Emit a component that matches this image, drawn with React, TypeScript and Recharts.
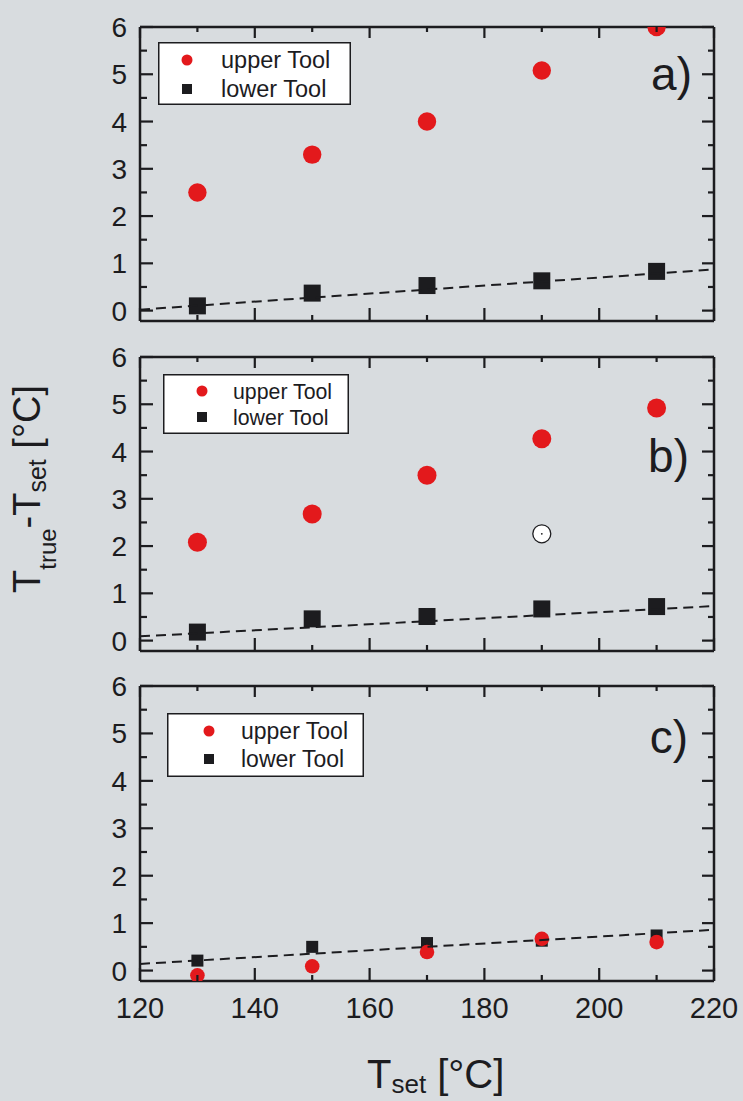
import React from 'react';
import { ScatterChart, Scatter, XAxis, YAxis, Legend } from 'recharts';

const BG = '#d8dcdf';
const INK = '#1c1c1f';
const RED = '#e3191c';
const FONT = '"Liberation Sans", Arial, Helvetica, sans-serif';

// ---- data ----
const T_SET = [130, 150, 170, 190, 210];
const FIT_X = [120, 220];

const UPPER_A = [2.5, 3.3, 4.0, 5.08, 6.0];
const LOWER_A = [0.1, 0.37, 0.53, 0.63, 0.83];
const FIT_A = [0.02, 0.87];

const UPPER_B = [2.08, 2.68, 3.5, 4.27, 4.92];
const LOWER_B = [0.18, 0.46, 0.51, 0.67, 0.72];
const FIT_B = [0.09, 0.73];
const OUTLIER_B_X = [190];
const OUTLIER_B_Y = [2.26];

const UPPER_C = [-0.1, 0.09, 0.39, 0.67, 0.6];
const LOWER_C = [0.21, 0.5, 0.58, 0.63, 0.74];
const FIT_C = [0.14, 0.86];

const X_TICKS = [120, 130, 140, 150, 160, 170, 180, 190, 200, 210, 220];
const Y_TICKS = [0, 0.5, 1, 1.5, 2, 2.5, 3, 3.5, 4, 4.5, 5, 5.5, 6];
const X_DOMAIN = [120, 220];
const Y_DOMAIN = [-0.22, 6];
const SERIES_NAMES = ['upper Tool', 'lower Tool'];
const PANEL_LABELS = ['a)', 'b)', 'c)'];

const zip = (xs: number[], ys: number[]) => xs.map((x, i) => ({ x, y: ys[i] }));

// ---- ticks (drawn inward) ----
const isMajorX = (v: number) => v % 20 === 0;
const isMajorY = (v: number) => Number.isInteger(v);
const TICK_W = 2.2;

const BottomTick = (showLabel: boolean) => (props: any) => {
  const { x, y, payload } = props;
  const v = Number(payload.value);
  const len = isMajorX(v) ? 13 : 6;
  return (
    <g>
      <line x1={x} x2={x} y1={y} y2={y - len} stroke={INK} strokeWidth={TICK_W} />
      {showLabel && isMajorX(v) && (
        <text x={x} y={y + 37} textAnchor="middle" fontSize={29} fill={INK} fontFamily={FONT}>
          {v}
        </text>
      )}
    </g>
  );
};

const TopTick = (props: any) => {
  const { x, y, payload } = props;
  const v = Number(payload.value);
  const len = isMajorX(v) ? 11 : 5;
  return (
    <g>
      <line x1={x} x2={x} y1={y} y2={y + len} stroke={INK} strokeWidth={TICK_W} />
    </g>
  );
};

const LeftTick = (props: any) => {
  const { x, y, payload } = props;
  const v = Number(payload.value);
  const major = isMajorY(v);
  return (
    <g>
      <line x1={x} x2={x + (major ? 13 : 7)} y1={y} y2={y} stroke={INK} strokeWidth={TICK_W} />
      {major && (
        <text x={x - 13} y={y + 10} textAnchor="end" fontSize={28} fill={INK} fontFamily={FONT}>
          {v}
        </text>
      )}
    </g>
  );
};

const RightTick = (props: any) => {
  const { x, y, payload } = props;
  const v = Number(payload.value);
  const len = isMajorY(v) ? 12 : 6;
  return (
    <g>
      <line x1={x} x2={x - len} y1={y} y2={y} stroke={INK} strokeWidth={TICK_W} />
    </g>
  );
};

// ---- legend ----
type LegendCfg = {
  left: number; top: number; w: number; h: number;
  symX: number; rowY: number[]; textX: number; fontSize: number;
};

const LegendBox = (cfg: LegendCfg) => (props: any) => {
  const items = (props.payload || [])
    .filter((p: any) => SERIES_NAMES.includes(p.value))
    .sort((a: any, b: any) => SERIES_NAMES.indexOf(a.value) - SERIES_NAMES.indexOf(b.value));
  return (
    <svg width={cfg.w} height={cfg.h} style={{ display: 'block' }}>
      <rect x={0.75} y={0.75} width={cfg.w - 1.5} height={cfg.h - 1.5} fill="#ffffff" stroke={INK} strokeWidth={1.5} />
      {items.map((p: any, i: number) => (
        <g key={p.value}>
          {p.type === 'circle' ? (
            <circle cx={cfg.symX} cy={cfg.rowY[i]} r={5.5} fill={p.color} />
          ) : (
            <rect x={cfg.symX - 5} y={cfg.rowY[i] - 5} width={10} height={10} fill={p.color} />
          )}
          <text x={cfg.textX} y={cfg.rowY[i] + cfg.fontSize * 0.36} fontSize={cfg.fontSize} fill={INK} fontFamily={FONT}>
            {p.value}
          </text>
        </g>
      ))}
    </svg>
  );
};

// ---- panel ----
type PanelProps = {
  top: number; height: number; marginBottom: number;
  upper: number[]; lower: number[]; fit: number[];
  outlier?: { x: number; y: number }[];
  legend: LegendCfg; showXLabels: boolean; circleR: number; squareS: number;
};

function Panel(p: PanelProps) {
  const upperData = zip(T_SET, p.upper);
  const lowerData = zip(T_SET, p.lower);
  const fitData = zip(FIT_X, p.fit);
  const axisLine = { stroke: INK, strokeWidth: 2.5 };
  return (
    <div style={{ position: 'absolute', left: 0, top: p.top }}>
      <ScatterChart width={743} height={p.height} margin={{ top: 26, right: 28, bottom: p.marginBottom - 1, left: 80 }}>
        <XAxis xAxisId="b" type="number" dataKey="x" domain={X_DOMAIN} ticks={X_TICKS} interval={0}
          allowDataOverflow orientation="bottom" height={1} tickSize={0} tickMargin={0}
          axisLine={axisLine} tickLine={false} tick={BottomTick(p.showXLabels)} />
        <XAxis xAxisId="t" type="number" dataKey="x" domain={X_DOMAIN} ticks={X_TICKS} interval={0}
          allowDataOverflow orientation="top" height={1} tickSize={0} tickMargin={0}
          axisLine={axisLine} tickLine={false} tick={TopTick} />
        <YAxis yAxisId="l" type="number" dataKey="y" domain={Y_DOMAIN} ticks={Y_TICKS} interval={0}
          allowDataOverflow orientation="left" width={60} tickSize={0} tickMargin={0}
          axisLine={axisLine} tickLine={false} tick={LeftTick} />
        <YAxis yAxisId="r" type="number" dataKey="y" domain={Y_DOMAIN} ticks={Y_TICKS} interval={0}
          allowDataOverflow orientation="right" width={1} tickSize={0} tickMargin={0}
          axisLine={axisLine} tickLine={false} tick={RightTick} />
        <Legend layout="vertical" align="center" verticalAlign="middle"
          wrapperStyle={{ left: p.legend.left, top: p.legend.top, width: p.legend.w, height: p.legend.h }}
          content={LegendBox(p.legend)} />
        <Scatter xAxisId="b" yAxisId="l" name="lower Tool" data={lowerData} fill={INK} legendType="square"
          isAnimationActive={false}
          shape={(s: any) => (
            <rect x={s.cx - p.squareS / 2} y={s.cy - p.squareS / 2} width={p.squareS} height={p.squareS} fill={INK} />
          )} />
        <Scatter xAxisId="b" yAxisId="l" name="upper Tool" data={upperData} fill={RED} legendType="circle"
          isAnimationActive={false}
          shape={(s: any) => <circle cx={s.cx} cy={s.cy} r={p.circleR} fill={RED} />} />
        {p.outlier && (
          <Scatter xAxisId="b" yAxisId="l" name="outlier" data={p.outlier} fill="#ffffff" legendType="none"
            isAnimationActive={false}
            shape={(s: any) => (
              <g>
                <circle cx={s.cx} cy={s.cy} r={9} fill="#ffffff" stroke={INK} strokeWidth={1.3} />
                <circle cx={s.cx} cy={s.cy} r={0.9} fill={INK} />
              </g>
            )} />
        )}
        <Scatter xAxisId="b" yAxisId="l" name="fit" data={fitData} fill={INK} legendType="none"
          isAnimationActive={false}
          line={{ stroke: INK, strokeWidth: 2, strokeDasharray: '10 6' }}
          shape={() => <g />} />
        <Scatter xAxisId="t" yAxisId="r" name="frame" data={fitData} fill="none" legendType="none"
          isAnimationActive={false} shape={() => <g />} />
      </ScatterChart>
    </div>
  );
}

export default function App() {
  return (
    <div style={{ position: 'absolute', left: 0, top: 0, width: 743, height: 1101, background: BG, overflow: 'hidden' }}>
      <Panel top={0} height={340} marginBottom={19} upper={UPPER_A} lower={LOWER_A} fit={FIT_A}
        showXLabels={false} circleR={9.2} squareS={17}
        legend={{ left: 158, top: 42, w: 193, h: 63, symX: 29, rowY: [18, 47], textX: 63, fontSize: 23.5 }} />
      <Panel top={330} height={340} marginBottom={19} upper={UPPER_B} lower={LOWER_B} fit={FIT_B}
        outlier={zip(OUTLIER_B_X, OUTLIER_B_Y)}
        showXLabels={false} circleR={9.5} squareS={17}
        legend={{ left: 163, top: 44, w: 186, h: 60, symX: 39, rowY: [17, 43], textX: 70, fontSize: 21.3 }} />
      <Panel top={659} height={442} marginBottom={120} upper={UPPER_C} lower={LOWER_C} fit={FIT_C}
        showXLabels={true} circleR={7.3} squareS={12}
        legend={{ left: 167, top: 54, w: 197, h: 64, symX: 42, rowY: [18, 46], textX: 74, fontSize: 23 }} />
      <svg width={743} height={1101} style={{ position: 'absolute', left: 0, top: 0, pointerEvents: 'none' }}>
        <text x={692} y={90} textAnchor="end" fontSize={46} fill={INK} fontFamily={FONT}>{PANEL_LABELS[0]}</text>
        <text x={689} y={472} textAnchor="end" fontSize={46} fill={INK} fontFamily={FONT}>{PANEL_LABELS[1]}</text>
        <text x={688} y={753} textAnchor="end" fontSize={46} fill={INK} fontFamily={FONT}>{PANEL_LABELS[2]}</text>
        <text transform="translate(40,593) rotate(-90)" fontSize={38} fill={INK} fontFamily={FONT}>
          T<tspan fontSize={24} dy={16}>true</tspan>
          <tspan fontSize={38} dy={-16}>-T</tspan>
          <tspan fontSize={25} dy={6}>set</tspan>
          <tspan fontSize={38} dy={-6}>{' [°C]'}</tspan>
        </text>
        <text x={367} y={1088} fontSize={40} fill={INK} fontFamily={FONT}>
          T<tspan fontSize={26} dy={5}>set</tspan>
          <tspan fontSize={40} dy={-5}>{' [°C]'}</tspan>
        </text>
      </svg>
    </div>
  );
}
